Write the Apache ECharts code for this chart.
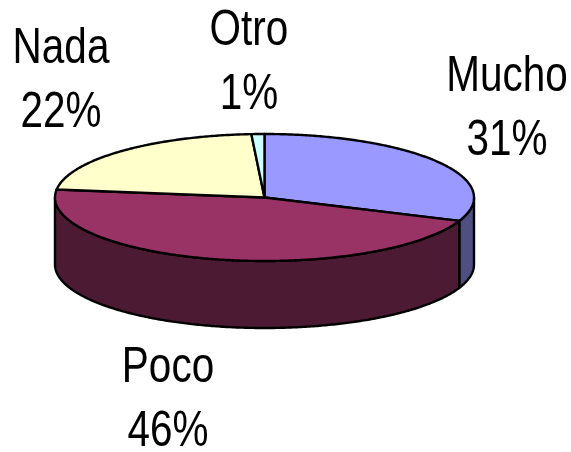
<!DOCTYPE html>
<html>
<head>
<meta charset="utf-8">
<style>html,body{margin:0;padding:0;background:#fff}#c{width:571px;height:452px}</style>
<script src="https://cdn.jsdelivr.net/npm/echarts@6/dist/echarts.min.js"></script>
</head>
<body>
<div id="c"></div>
<script>
const categories = ['Mucho', 'Poco', 'Nada', 'Otro'];
const percents = [31, 46, 22, 1];
const topColors = ['#9999FF', '#993366', '#FFFFCC', '#CCFFFF'];
const sideColors = ['#4F4F82', '#4D1A33', '#80805F', '#668080'];
const labelCentres = [[507, 109], [168, 400], [61, 81], [249, 63]];
const pieDepth = 67;
const total = percents.reduce((a, b) => a + b, 0);
const starts = [];
percents.reduce((acc, v, i) => { starts[i] = acc; return acc + v; }, 0);
const toAngle = p => p / total * 2 * Math.PI;
const chart = echarts.init(document.getElementById('c'), null, {renderer: 'canvas'});

function arc(api, a, b, dy) {
  const pts = [];
  const n = Math.max(2, Math.ceil((b - a) / 0.01));
  for (let i = 0; i <= n; i++) {
    const t = a + (b - a) * i / n;
    const p = api.coord([Math.sin(t), Math.cos(t)]);
    pts.push([p[0], p[1] + dy]);
  }
  return pts;
}

function renderSlice(params, api) {
  const i = params.dataIndex;
  const a = toAngle(starts[i]);
  const b = toAngle(starts[i] + api.value(1));
  const lineStyle = {stroke: '#000', lineWidth: 2.4, lineJoin: 'round'};
  const children = [];
  const sa = Math.max(a, Math.PI / 2), sb = Math.min(b, Math.PI * 1.5);
  if (sb > sa) {
    children.push({
      type: 'polygon', z2: 1,
      shape: {points: arc(api, sa, sb, 0).concat(arc(api, sa, sb, pieDepth).reverse())},
      style: Object.assign({fill: sideColors[i]}, lineStyle)
    });
  }
  children.push({
    type: 'polygon', z2: 2,
    shape: {points: [api.coord([0, 0])].concat(arc(api, a, b, 0))},
    style: Object.assign({fill: topColors[i]}, lineStyle)
  });
  children.push({
    type: 'text', z2: 3,
    x: labelCentres[i][0], y: labelCentres[i][1], scaleX: 0.81,
    style: {
      text: categories[i] + '\n' + api.value(1) + '%',
      x: 0, y: 0, align: 'center', verticalAlign: 'middle',
      fontFamily: '"Liberation Sans", Arial, sans-serif', fontSize: 50, lineHeight: 64, fill: '#000'
    }
  });
  return {type: 'group', children};
}

chart.setOption({
  animation: false,
  backgroundColor: '#fff',
  grid: {left: 55, top: 134, width: 419, height: 127, containLabel: false},
  xAxis: {type: 'value', min: -1, max: 1, show: false},
  yAxis: {type: 'value', min: -1, max: 1, show: false},
  series: [{
    type: 'custom',
    coordinateSystem: 'cartesian2d',
    clip: false,
    silent: true,
    renderItem: renderSlice,
    encode: {x: 0, y: 1},
    data: percents.map((v, i) => [i, v])
  }]
});
</script>
</body>
</html>
